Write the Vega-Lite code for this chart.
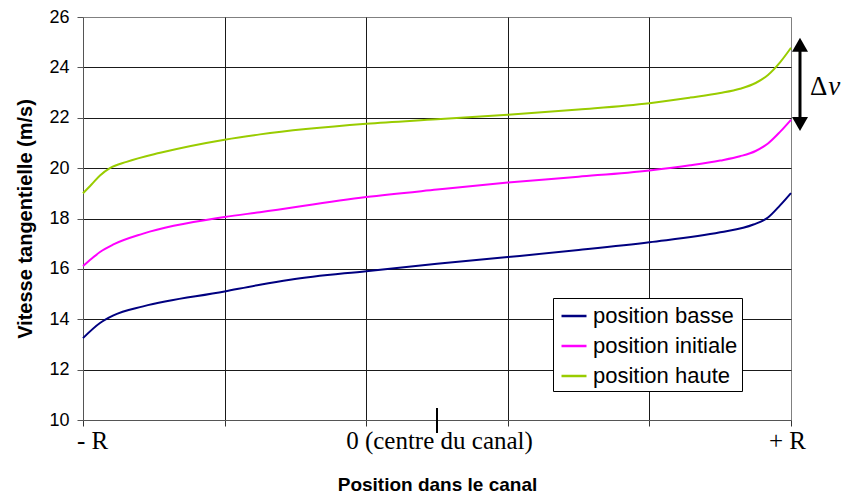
{
  "$schema": "https://vega.github.io/schema/vega-lite/v6.json",
  "width": 708,
  "height": 403,
  "autosize": "none",
  "padding": {"left": 83, "top": 17, "right": 54, "bottom": 73},
  "background": "white",
  "config": {"view": {"stroke": "#808080", "strokeWidth": 1}, "font": "Liberation Sans"},
  "datasets": {
    "courbes": [
      {"x": -1, "y": 13.25, "serie": "position basse"},
      {"x": -0.952, "y": 13.85, "serie": "position basse"},
      {"x": -0.914, "y": 14.15, "serie": "position basse"},
      {"x": -0.83, "y": 14.51, "serie": "position basse"},
      {"x": -0.6, "y": 15.1, "serie": "position basse"},
      {"x": -0.5, "y": 15.37, "serie": "position basse"},
      {"x": -0.415, "y": 15.57, "serie": "position basse"},
      {"x": -0.2, "y": 15.91, "serie": "position basse"},
      {"x": 0, "y": 16.2, "serie": "position basse"},
      {"x": 0.2, "y": 16.47, "serie": "position basse"},
      {"x": 0.4, "y": 16.75, "serie": "position basse"},
      {"x": 0.6, "y": 17.06, "serie": "position basse"},
      {"x": 0.8, "y": 17.45, "serie": "position basse"},
      {"x": 0.894, "y": 17.76, "serie": "position basse"},
      {"x": 0.935, "y": 18.04, "serie": "position basse"},
      {"x": 0.969, "y": 18.52, "serie": "position basse"},
      {"x": 1, "y": 19.01, "serie": "position basse"},
      {"x": -1, "y": 16.11, "serie": "position initiale"},
      {"x": -0.976, "y": 16.4, "serie": "position initiale"},
      {"x": -0.952, "y": 16.67, "serie": "position initiale"},
      {"x": -0.914, "y": 16.97, "serie": "position initiale"},
      {"x": -0.83, "y": 17.4, "serie": "position initiale"},
      {"x": -0.6, "y": 18.06, "serie": "position initiale"},
      {"x": -0.5, "y": 18.25, "serie": "position initiale"},
      {"x": -0.2, "y": 18.85, "serie": "position initiale"},
      {"x": 0, "y": 19.15, "serie": "position initiale"},
      {"x": 0.2, "y": 19.43, "serie": "position initiale"},
      {"x": 0.4, "y": 19.66, "serie": "position initiale"},
      {"x": 0.6, "y": 19.91, "serie": "position initiale"},
      {"x": 0.715, "y": 20.11, "serie": "position initiale"},
      {"x": 0.8, "y": 20.3, "serie": "position initiale"},
      {"x": 0.856, "y": 20.47, "serie": "position initiale"},
      {"x": 0.9, "y": 20.68, "serie": "position initiale"},
      {"x": 0.935, "y": 20.98, "serie": "position initiale"},
      {"x": 0.969, "y": 21.44, "serie": "position initiale"},
      {"x": 1, "y": 21.92, "serie": "position initiale"},
      {"x": -1, "y": 19.0, "serie": "position haute"},
      {"x": -0.976, "y": 19.35, "serie": "position haute"},
      {"x": -0.952, "y": 19.71, "serie": "position haute"},
      {"x": -0.924, "y": 20.0, "serie": "position haute"},
      {"x": -0.877, "y": 20.25, "serie": "position haute"},
      {"x": -0.782, "y": 20.61, "serie": "position haute"},
      {"x": -0.6, "y": 21.13, "serie": "position haute"},
      {"x": -0.5, "y": 21.34, "serie": "position haute"},
      {"x": -0.2, "y": 21.76, "serie": "position haute"},
      {"x": 0, "y": 21.94, "serie": "position haute"},
      {"x": 0.2, "y": 22.12, "serie": "position haute"},
      {"x": 0.4, "y": 22.33, "serie": "position haute"},
      {"x": 0.6, "y": 22.58, "serie": "position haute"},
      {"x": 0.715, "y": 22.8, "serie": "position haute"},
      {"x": 0.8, "y": 22.98, "serie": "position haute"},
      {"x": 0.856, "y": 23.15, "serie": "position haute"},
      {"x": 0.9, "y": 23.38, "serie": "position haute"},
      {"x": 0.935, "y": 23.7, "serie": "position haute"},
      {"x": 0.969, "y": 24.2, "serie": "position haute"},
      {"x": 1, "y": 24.78, "serie": "position haute"}
    ],
    "fleche": [{"x": 1.0254, "y": 24.9, "y2": 21.75}],
    "pointe_haut": [{"x": 1.0254, "y": 24.9}],
    "pointe_bas": [{"x": 1.0254, "y": 21.75}],
    "delta": [{"x": 1.078, "y": 22.885, "t": "Δ"}],
    "lettre_v": [{"x": 1.122, "y": 22.885, "t": "v"}],
    "repere": [{"x": 0, "y": 10.476, "y2": 9.484}]
  },
  "encoding": {
    "x": {
      "field": "x",
      "type": "quantitative",
      "scale": {"domain": [-1, 1], "nice": false, "zero": false},
      "axis": {
        "values": [-1, -0.6, -0.2, 0, 0.2, 0.6, 1],
        "title": "Position dans le canal",
        "titleFont": "Liberation Sans",
        "titleFontWeight": "bold",
        "titleFontSize": 19,
        "titleColor": "black",
        "titleX": 354,
        "titleY": 70,
        "titleBaseline": "alphabetic",
        "labelExpr": "datum.value == -1 ? '- R' : datum.value == 0 ? '0 (centre du canal)' : datum.value == 1 ? '+ R' : ''",
        "labelFont": "Liberation Serif",
        "labelFontSize": 25,
        "labelColor": "black",
        "labelBaseline": "alphabetic",
        "labelPadding": 22,
        "labelLimit": 400,
        "labelOverlap": false,
        "labelBound": false,
        "labelFlush": false,
        "labelOffset": {"condition": [{"test": "datum.value == -1", "value": 9}, {"test": "datum.value == 1", "value": -4}], "value": 2},
        "tickSize": 6,
        "tickColor": "#333",
        "tickOpacity": {"condition": {"test": "datum.value == 0", "value": 0}, "value": 1},
        "gridColor": "#1a1a1a",
        "gridOpacity": {"condition": {"test": "datum.value == 0 || datum.value == -1 || datum.value == 1", "value": 0}, "value": 1},
        "domainColor": "#555"
      }
    },
    "y": {
      "field": "y",
      "type": "quantitative",
      "scale": {"domain": [10, 26], "nice": false, "zero": false},
      "axis": {
        "values": [10, 12, 14, 16, 18, 20, 22, 24, 26],
        "title": "Vitesse tangentielle (m/s)",
        "titleFont": "Liberation Sans",
        "titleFontWeight": "bold",
        "titleFontSize": 20,
        "titleColor": "black",
        "titleX": -58,
        "titleY": 201.5,
        "titleBaseline": "middle",
        "labelFont": "Liberation Sans",
        "labelFontSize": 18,
        "labelColor": "black",
        "labelPadding": 8,
        "tickSize": 6,
        "tickColor": "#555",
        "gridColor": "#1a1a1a",
        "gridOpacity": {"condition": {"test": "datum.value == 10 || datum.value == 26", "value": 0}, "value": 1},
        "domainColor": "#555"
      }
    }
  },
  "layer": [
    {
      "data": {"name": "courbes"},
      "mark": {"type": "line", "interpolate": "monotone", "strokeWidth": 2},
      "encoding": {
        "color": {
          "field": "serie",
          "type": "nominal",
          "scale": {"domain": ["position basse", "position initiale", "position haute"], "range": ["#000080", "#FF00FF", "#99CC00"]},
          "legend": {
            "title": null,
            "orient": "none",
            "legendX": 470,
            "legendY": 281,
            "symbolType": "stroke",
            "symbolSize": 625,
            "symbolStrokeWidth": 2.5,
            "symbolOffset": 3,
            "labelFont": "Liberation Sans",
            "labelFontSize": 22,
            "labelColor": "black",
            "labelOffset": 5,
            "labelLimit": 300,
            "rowPadding": 5,
            "padding": 4,
            "strokeColor": "black",
            "fillColor": "white",
            "cornerRadius": 0
          }
        }
      }
    },
    {
      "data": {"name": "repere"},
      "mark": {"type": "rule", "strokeWidth": 2, "color": "black", "clip": false},
      "encoding": {"y2": {"field": "y2"}}
    },
    {
      "data": {"name": "fleche"},
      "mark": {"type": "rule", "strokeWidth": 3, "color": "black", "clip": false},
      "encoding": {"y2": {"field": "y2"}}
    },
    {
      "data": {"name": "pointe_haut"},
      "mark": {"type": "point", "shape": "triangle-up", "size": 256, "filled": true, "color": "black", "opacity": 1, "clip": false},
      "encoding": {}
    },
    {
      "data": {"name": "pointe_bas"},
      "mark": {"type": "point", "shape": "triangle-down", "size": 256, "filled": true, "color": "black", "opacity": 1, "clip": false},
      "encoding": {}
    },
    {
      "data": {"name": "delta"},
      "mark": {"type": "text", "font": "Liberation Serif", "fontSize": 27, "color": "black", "baseline": "alphabetic", "align": "center", "clip": false},
      "encoding": {"text": {"field": "t"}}
    },
    {
      "data": {"name": "lettre_v"},
      "mark": {"type": "text", "font": "Liberation Serif", "fontSize": 27, "fontStyle": "italic", "color": "black", "baseline": "alphabetic", "align": "center", "clip": false},
      "encoding": {"text": {"field": "t"}}
    }
  ]
}
